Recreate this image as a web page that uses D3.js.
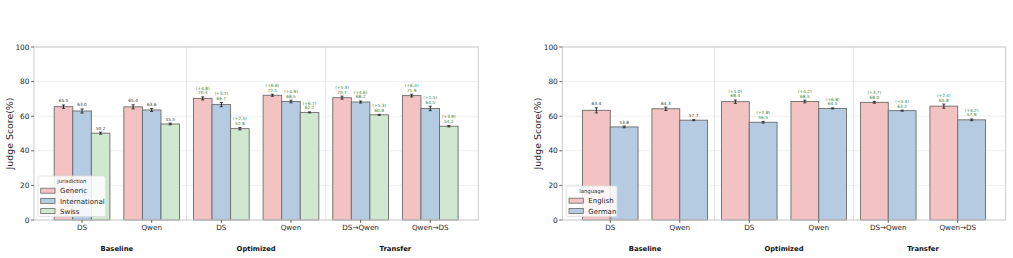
<!DOCTYPE html>
<html>
<head>
<meta charset="utf-8">
<script src="https://cdn.jsdelivr.net/npm/d3@7"></script>
<style>
  body { margin: 0; background: #fff; }
  svg { font-family: "DejaVu Sans", sans-serif; }
</style>
</head>
<body>
<svg id="chart" width="1013" height="258"></svg>
<script>
// DATA
const categories = ["DS", "Qwen", "DS", "Qwen", "DS→Qwen", "Qwen→DS"];
const sections = ["Baseline", "Optimized", "Transfer"];
const yTicks = [0, 20, 40, 60, 80, 100];

// left panel: jurisdiction
const jurisdictions = ["Generic", "International", "Swiss"];
const genericScores = [65.5, 65.4, 70.3, 72.1, 70.7, 71.9];
const internationalScores = [63.0, 63.6, 66.7, 68.5, 68.2, 64.5];
const swissScores = [50.2, 55.5, 52.8, 62.2, 60.8, 54.2];
const genericErr = [1.0, 1.2, 0.9, 0.6, 0.9, 0.8];
const internationalErr = [1.2, 0.9, 1.2, 0.8, 0.6, 1.3];
const swissErr = [0.6, 0.5, 0.7, 0.3, 0.3, 0.4];
const genericDelta = [null, null, "+4.8", "+6.6", "+5.3", "+6.4"];
const internationalDelta = [null, null, "+3.7", "+4.9", "+4.6", "+1.5"];
const swissDelta = [null, null, "+2.5", "+6.7", "+5.3", "+3.9"];

// right panel: language
const languages = ["English", "German"];
const englishScores = [63.4, 64.3, 68.4, 68.5, 68.0, 65.8];
const germanScores = [53.8, 57.7, 56.5, 64.5, 63.2, 57.9];
const englishErr = [1.5, 1.0, 1.0, 0.8, 0.5, 1.2];
const germanErr = [0.5, 0.3, 0.5, 0.3, 0.3, 0.5];
const englishDelta = [null, null, "+5.0", "+4.2", "+3.7", "+2.4"];
const germanDelta = [null, null, "+2.8", "+6.8", "+5.4", "+4.2"];

const colors = ["#f3c3c3", "#b5cbe2", "#d0e8cf"];

const svg = d3.select("#chart");
const plotTop = 47, plotBottom = 220;

function drawPanel(x0, x1, hues, scores, errs, deltas, title, legendBox) {
    const g = svg.append("g");
    const x = d3.scaleLinear().domain([-0.69, 5.69]).range([x0, x1]);
    const y = d3.scaleLinear().domain([0, 100]).range([plotBottom, plotTop]);

    // grid
    g.selectAll(".grid").data(yTicks).enter().append("line")
        .attr("x1", x0).attr("x2", x1)
        .attr("y1", d => y(d)).attr("y2", d => y(d))
        .attr("stroke", "#ebebeb").attr("stroke-width", 0.8);

    // section separators
    [1.5, 3.5].forEach(s => {
        g.append("line")
            .attr("x1", x(s)).attr("x2", x(s))
            .attr("y1", plotTop).attr("y2", plotBottom)
            .attr("stroke", "#dddddd").attr("stroke-width", 0.8);
    });

    const n = hues.length;
    const bw = 0.8 / n;
    hues.forEach((h, hi) => {
        const off = -0.4 + bw * hi;
        categories.forEach((c, i) => {
            const v = scores[hi][i], e = errs[hi][i];
            const bx = x(i + off), bwPx = x(i + off + bw) - x(i + off);
            g.append("rect")
                .attr("x", bx).attr("y", y(v))
                .attr("width", bwPx).attr("height", plotBottom - y(v))
                .attr("fill", colors[hi])
                .attr("stroke", "#6b6b6b").attr("stroke-width", 0.9);
            // error bar
            const cx = bx + bwPx / 2;
            g.append("line").attr("x1", cx).attr("x2", cx)
                .attr("y1", y(v - e)).attr("y2", y(v + e))
                .attr("stroke", "#222").attr("stroke-width", 1);
            [v - e, v + e].forEach(t => {
                g.append("line").attr("x1", cx - 1.6).attr("x2", cx + 1.6)
                    .attr("y1", y(t)).attr("y2", y(t))
                    .attr("stroke", "#222").attr("stroke-width", 0.8);
            });
            // value labels
            const d = deltas[hi][i];
            const ly = y(v + e) - 2.5;
            g.append("text")
                .attr("x", cx).attr("y", ly)
                .attr("text-anchor", "middle")
                .attr("font-size", 4.3)
                .attr("fill", d ? "#2e7d32" : "#333")
                .text(v.toFixed(1));
            if (d) {
                g.append("text")
                    .attr("x", cx).attr("y", ly - 4.6)
                    .attr("text-anchor", "middle")
                    .attr("font-size", 4.3)
                    .attr("fill", "#2e7d32")
                    .text("(" + d + ")");
            }
        });
    });

    // spines
    g.append("rect")
        .attr("x", x0).attr("y", plotTop)
        .attr("width", x1 - x0).attr("height", plotBottom - plotTop)
        .attr("fill", "none").attr("stroke", "#cccccc").attr("stroke-width", 1);

    // y axis ticks
    yTicks.forEach(t => {
        g.append("line").attr("x1", x0 - 3).attr("x2", x0)
            .attr("y1", y(t)).attr("y2", y(t))
            .attr("stroke", "#444").attr("stroke-width", 0.8);
        g.append("text")
            .attr("x", x0 - 4.5).attr("y", y(t) + 2.6)
            .attr("text-anchor", "end")
            .attr("font-size", 7.4).attr("fill", "#262626")
            .text(t);
    });

    // x axis ticks
    categories.forEach((c, i) => {
        g.append("line").attr("x1", x(i)).attr("x2", x(i))
            .attr("y1", plotBottom).attr("y2", plotBottom + 3)
            .attr("stroke", "#444").attr("stroke-width", 0.8);
        g.append("text")
            .attr("x", x(i)).attr("y", plotBottom + 10)
            .attr("text-anchor", "middle")
            .attr("font-size", 7.2).attr("fill", "#262626")
            .text(c);
    });

    // section labels
    sections.forEach((s, i) => {
        g.append("text")
            .attr("x", x(i * 2 + 0.5)).attr("y", 251)
            .attr("text-anchor", "middle")
            .attr("font-size", 6.8).attr("font-weight", "bold")
            .attr("fill", "#111")
            .text(s);
    });

    // y label
    g.append("text")
        .attr("transform", `translate(${x0 - 21},${(plotTop + plotBottom) / 2}) rotate(-90)`)
        .attr("text-anchor", "middle")
        .attr("font-size", 9.4).attr("fill", "#262626")
        .text("Judge Score(%)");

    // legend
    const lg = g.append("g").attr("transform", `translate(${legendBox.x},${legendBox.y})`);
    lg.append("rect")
        .attr("width", legendBox.w).attr("height", legendBox.h)
        .attr("rx", 1.5)
        .attr("fill", "#fff").attr("fill-opacity", 0.85)
        .attr("stroke", "#dddddd").attr("stroke-width", 0.8);
    lg.append("text")
        .attr("x", legendBox.w / 2).attr("y", 7.3)
        .attr("text-anchor", "middle")
        .attr("font-size", 5.3).attr("fill", "#262626")
        .text(title);
    hues.forEach((h, hi) => {
        const ry = 14.7 + hi * 10.2;
        lg.append("rect")
            .attr("x", 2.7).attr("y", ry - 2.5)
            .attr("width", 14.3).attr("height", 5)
            .attr("fill", colors[hi])
            .attr("stroke", "#6b6b6b").attr("stroke-width", 0.8);
        lg.append("text")
            .attr("x", 22).attr("y", ry + 2.6)
            .attr("font-size", 7).attr("fill", "#262626")
            .text(h);
    });
}

drawPanel(34, 478.3, jurisdictions,
    [genericScores, internationalScores, swissScores],
    [genericErr, internationalErr, swissErr],
    [genericDelta, internationalDelta, swissDelta],
    "jurisdiction", { x: 38, y: 176, w: 67.5, h: 40.5 });

drawPanel(562.3, 1005.7, languages,
    [englishScores, germanScores],
    [englishErr, germanErr],
    [englishDelta, germanDelta],
    "language", { x: 566.3, y: 186, w: 50.7, h: 30.5 });
</script>
</body>
</html>
